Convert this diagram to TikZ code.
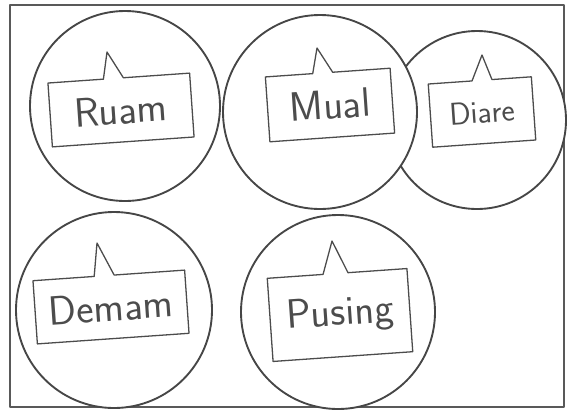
\documentclass[tikz,border=0pt]{standalone}
\usepackage{fontspec}
\usepackage{tikz}
\usetikzlibrary{shapes.callouts}

\begin{document}
\begin{tikzpicture}[x=0.03cm,y=-0.03cm,line cap=round,line join=round,
  bubble/.style={circle,draw=gray!55!black,line width=1.6pt,fill=white,inner sep=0pt},
  tag/.style={rectangle callout,draw=gray!60!black,line width=1.1pt,fill=white,
    callout pointer width=0.6cm,inner sep=0pt,text=gray!60!black,rotate=4,
    font=\sffamily\fontsize{35}{37}\selectfont}]
\useasboundingbox (0,0) rectangle (568,412);
\draw[gray!70!black,line width=0.9pt] (10,5) rectangle (564,407);
\node[bubble,minimum size=5.34cm] (diarebub) at (477,120) {};
\node[bubble,minimum size=5.82cm] (mualbub) at (320,112) {};
\node[bubble,minimum size=5.7cm] (ruambub) at (125,106) {};
\node[bubble,minimum size=5.88cm] (demambub) at (114,310) {};
\node[bubble,minimum size=5.82cm] (pusingbub) at (338,312) {};
\node[tag,minimum width=4.26cm,minimum height=1.92cm,callout absolute pointer={(107,52)}] (ruam) at (121,110) {Ruam};
\node[tag,minimum width=3.75cm,minimum height=1.95cm,callout absolute pointer={(317,48)}] (mual) at (330,105) {Mual};
\node[tag,minimum width=3.1cm,minimum height=1.9cm,callout absolute pointer={(482,55)},font=\sffamily\fontsize{27}{29}\selectfont] (diare) at (482,112) {Diare};
\node[tag,minimum width=4.56cm,minimum height=1.9cm,callout absolute pointer={(97,243)}] (demam) at (111,307) {Demam};
\node[tag,minimum width=4.2cm,minimum height=2.5cm,callout absolute pointer={(332,241)},callout pointer width=0.75cm] (pusing) at (340,315) {Pusing};
\end{tikzpicture}
\end{document}
